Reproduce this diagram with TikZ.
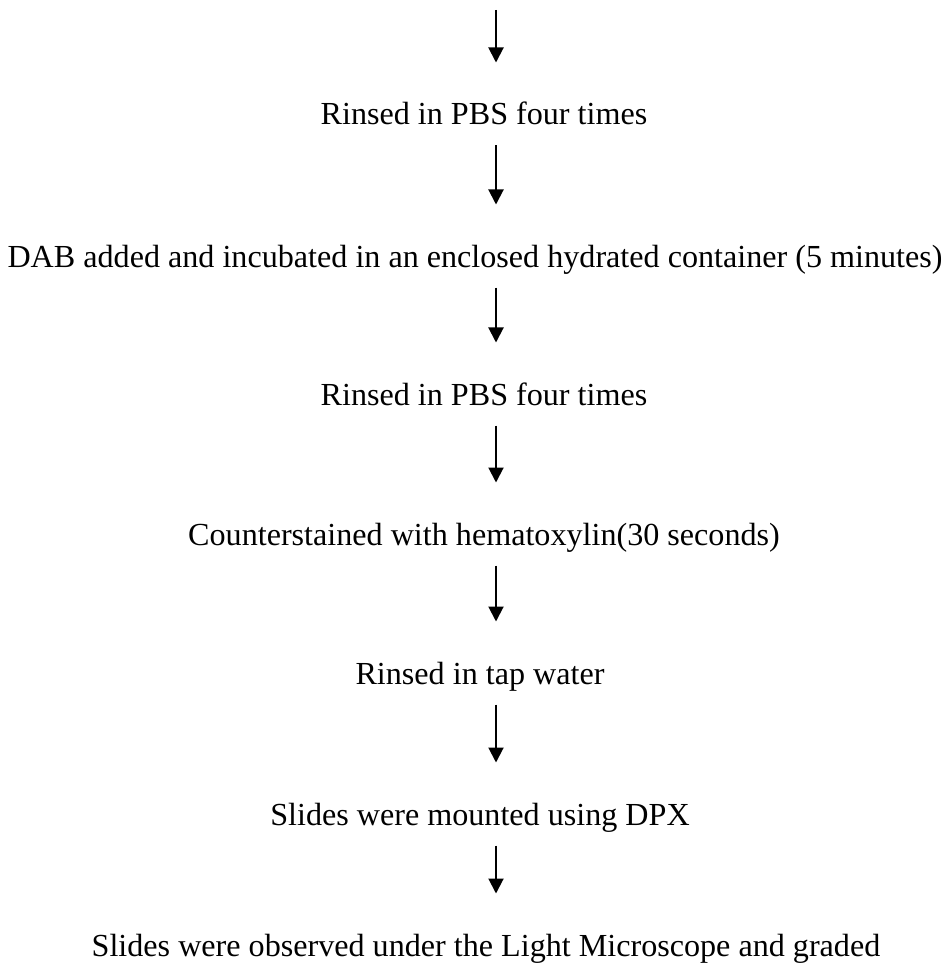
\documentclass[tikz,border=0pt]{standalone}
\usepackage{fontspec}
\setmainfont{Liberation Serif}
\usetikzlibrary{arrows.meta}
\begin{document}
\begin{tikzpicture}[x=0.4pt,y=-0.4pt,
  stepnode/.style={anchor=base,inner sep=0pt,text height=24.8pt,text depth=8pt,font=\fontsize{12.85}{15}\selectfont},
  arr/.style={line width=0.8pt,-{Triangle[length=6pt,width=6pt]}}]
\useasboundingbox (0,0) rectangle (946,965);
\coordinate (top) at (496,10);
\coordinate (ax) at (496,0);
\node[stepnode] (t1) at (484,125) {Rinsed in PBS four times};
\node[stepnode] (t2) at (475,267) {DAB added and incubated in an enclosed hydrated container (5 minutes)};
\node[stepnode] (t3) at (484,405) {Rinsed in PBS four times};
\node[stepnode] (t4) at (484,545) {Counterstained with hematoxylin(30 seconds)};
\node[stepnode] (t5) at (480,684) {Rinsed in tap water};
\node[stepnode] (t6) at (480,825) {Slides were mounted using DPX};
\node[stepnode] (t7) at (486,956) {Slides were observed under the Light Microscope and graded};
\draw[arr] (top) -- (t1.north -| ax);
\draw[arr] (t1.south -| ax) -- (t2.north -| ax);
\draw[arr] (t2.south -| ax) -- (t3.north -| ax);
\draw[arr] (t3.south -| ax) -- (t4.north -| ax);
\draw[arr] (t4.south -| ax) -- (t5.north -| ax);
\draw[arr] (t5.south -| ax) -- (t6.north -| ax);
\draw[arr] (t6.south -| ax) -- (t7.north -| ax);
\end{tikzpicture}
\end{document}
